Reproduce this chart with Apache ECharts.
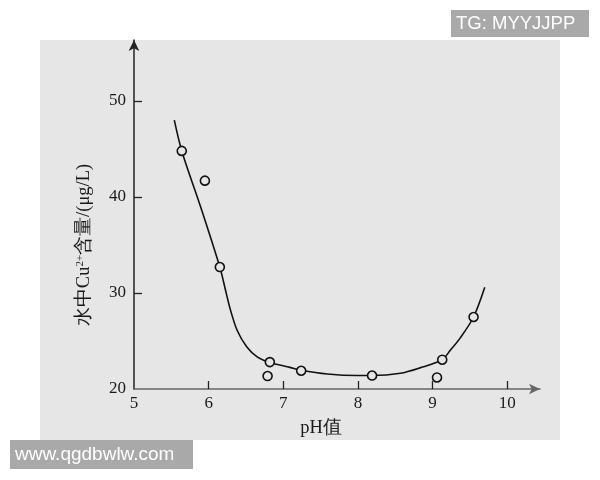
<!DOCTYPE html>
<html>
<head>
<meta charset="utf-8">
<script src="https://cdn.jsdelivr.net/npm/echarts@6/dist/echarts.min.js"></script>
<style>html,body{margin:0;padding:0;background:#fff;}#c{width:600px;height:480px;}</style>
</head>
<body>
<div id="c"></div>
<script>
// Measured points (pH, Cu2+ µg/L)
var pointX = [5.64, 5.95, 6.15, 6.82, 6.79, 7.24, 8.19, 9.06, 9.13, 9.55];
var pointY = [44.8, 41.7, 32.7, 22.8, 21.35, 21.9, 21.4, 21.2, 23.05, 27.5];
// Fitted curve
var curveX = [5.54, 5.64, 5.90, 6.15, 6.22, 6.29, 6.38, 6.51, 6.65, 6.82, 7.09, 7.24, 7.59, 7.99, 8.19, 8.57, 8.83, 9.13, 9.24, 9.37, 9.55, 9.70];
var curveY = [48.0, 44.8, 38.8, 32.7, 30.5, 28.3, 26.15, 24.4, 23.35, 22.75, 22.25, 21.95, 21.56, 21.4, 21.4, 21.64, 22.2, 23.05, 24.06, 25.3, 27.5, 30.6];
// Tick labels
var xTicks = [5, 6, 7, 8, 9, 10];
var yTicks = [20, 30, 40, 50];
var xName = 'pH值';
var yNameParts = ['水中Cu', '2+', '含量/(μg/L)'];

var chart = echarts.init(document.getElementById('c'), null, {renderer: 'canvas'});
var serif = '"Liberation Serif", "Times New Roman", serif';
var pts = pointX.map(function (x, i) { return [x, pointY[i]]; });
var curve = curveX.map(function (x, i) { return [x, curveY[i]]; });

chart.setOption({
  backgroundColor: '#ffffff',
  animation: false,
  grid: {left: 134, right: 60, top: 40, bottom: 91},
  xAxis: {
    type: 'value', min: 5, max: 10.44, interval: 1,
    splitLine: {show: false},
    axisLine: {lineStyle: {color: '#666', width: 1.5}, symbol: ['none', 'arrow'], symbolSize: [8, 11]},
    axisTick: {inside: true, length: 8, lineStyle: {color: '#222', width: 1.3}, customValues: xTicks.slice(1)},
    axisLabel: {customValues: xTicks, color: '#1a1a1a', fontFamily: serif, fontSize: 17, margin: 6}
  },
  yAxis: {
    type: 'value', min: 20, max: 56.35, interval: 10,
    splitLine: {show: false},
    axisLine: {lineStyle: {color: '#222', width: 1.5}, symbol: ['none', 'arrow'], symbolSize: [8, 11]},
    axisTick: {inside: true, length: 8, lineStyle: {color: '#222', width: 1.3}, customValues: yTicks.slice(1)},
    axisLabel: {customValues: yTicks, color: '#1a1a1a', fontFamily: serif, fontSize: 17, margin: 8}
  },
  graphic: [
    {type: 'rect', z: -100, shape: {x: 40, y: 40, width: 520, height: 400}, style: {fill: '#e6e6e6'}},
    {type: 'text', x: 321, y: 428, style: {text: xName, font: '18.5px ' + serif, fill: '#1a1a1a', align: 'center', verticalAlign: 'middle'}},
    {type: 'text', x: 84, y: 245, rotation: Math.PI / 2, style: {
      text: yNameParts[0] + '{sup|' + yNameParts[1] + '}' + yNameParts[2],
      font: '18.5px ' + serif, fill: '#1a1a1a', align: 'center', verticalAlign: 'middle',
      rich: {sup: {fontSize: 11, fontFamily: serif, fill: '#1a1a1a', verticalAlign: 'top'}}
    }},
    {type: 'rect', z: 100, shape: {x: 451, y: 10, width: 138, height: 27}, style: {fill: '#a9a9a9'}},
    {type: 'text', z: 101, x: 456, y: 24, style: {text: 'TG: MYYJJPP', font: '18.5px "Liberation Sans", Arial, sans-serif', fill: '#fff', align: 'left', verticalAlign: 'middle'}},
    {type: 'rect', z: 100, shape: {x: 10, y: 440, width: 183, height: 29}, style: {fill: '#a9a9a9'}},
    {type: 'text', z: 101, x: 15, y: 455, style: {text: 'www.qgdbwlw.com', font: '19px "Liberation Sans", Arial, sans-serif', fill: '#fff', align: 'left', verticalAlign: 'middle'}}
  ],
  series: [
    {type: 'line', data: curve, smooth: 0.3, showSymbol: false, lineStyle: {color: '#111', width: 1.6}, z: 2},
    {type: 'scatter', data: pts, symbol: 'circle', symbolSize: 9, itemStyle: {color: '#e6e6e6', borderColor: '#111', borderWidth: 1.6, opacity: 1}, z: 3}
  ]
});
</script>
</body>
</html>
